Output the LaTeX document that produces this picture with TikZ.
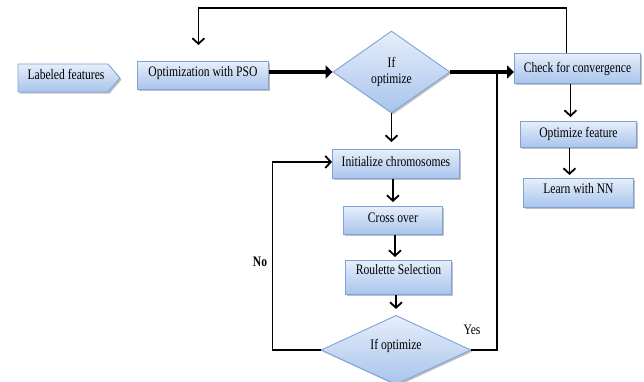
\documentclass[tikz,border=0pt]{standalone}
\usepackage{fontspec}
\setmainfont{Liberation Serif}[FakeStretch=0.8]
\usetikzlibrary{shapes.geometric,arrows.meta,shadows,calc}

\definecolor{boxtop}{HTML}{E6EEFA}
\definecolor{boxbot}{HTML}{A8C4EC}
\definecolor{boxline}{HTML}{7FA3D6}

\tikzset{
  txt/.style={font=\fontsize{14.5}{16}\selectfont},
  boxfill/.style={draw=boxline, line width=0.9pt, top color=boxtop, bottom color=boxbot,
    drop shadow={shadow xshift=1.6pt, shadow yshift=-1.6pt, opacity=0.35, fill=black!70}},
  stepbox/.style={boxfill, txt, shape=rectangle, inner sep=0pt, anchor=north west},
  decision/.style={boxfill, txt, shape=diamond, inner sep=0pt, align=center},
  conn/.style={draw=black, line width=1.8pt, -{Straight Barb[length=5.5pt,width=12pt]}},
  plainline/.style={draw=black, line width=1.8pt},
  bigarrow/.style={draw=black, line width=4.5pt, -{Triangle[length=7pt,width=13pt]}}
}

\begin{document}
\begin{tikzpicture}[x=1pt, y=-1pt]
\useasboundingbox (0,0) rectangle (644,382);

% input tag
\path[boxfill] (18,64) -- (108,64) -- (120,78) -- (108,92) -- (18,92) -- cycle;
\node[txt, inner sep=0pt, anchor=base] (feat) at (66,80) {Labeled features};

% main chain
\node[stepbox, minimum width=131pt, text height=15pt, text depth=13pt] (pso) at (137,61) {Optimization with PSO};
\node[decision, minimum width=117pt, minimum height=82pt] (d1) at (391.5,72) {If\\optimize};
\node[stepbox, minimum width=126pt, text height=19pt, text depth=11pt] (chk) at (514,53) {Check for convergence};
\node[stepbox, minimum width=116pt, text height=16pt, text depth=10pt] (optf) at (520,121) {Optimize feature};
\node[stepbox, minimum width=110pt, text height=15pt, text depth=14pt] (nn) at (523,178) {Learn with NN};

% genetic loop
\node[stepbox, minimum width=127pt, text height=17pt, text depth=12pt] (init) at (332,149) {Initialize chromosomes};
\node[stepbox, minimum width=99pt, text height=16pt, text depth=12pt] (cross) at (343,206) {Cross over};
\node[stepbox, minimum width=106pt, text height=14pt, text depth=20pt] (roul) at (345,260) {Roulette Selection};
\node[decision, minimum width=150pt, minimum height=62pt, text height=8pt, text depth=10pt] (d2) at (396,350) {If optimize};

\coordinate (yj) at (497,72);

% thick flow arrows
\draw[bigarrow] (pso.east |- d1.west) -- (d1.west);
\draw[bigarrow] (d1.east) -- (d1.east -| chk.west);

% feedback from convergence check
\draw[conn, shorten >=16pt] ([xshift=-11pt]chk.north) -- ++(0,-45) -| ([xshift=-4.5pt]pso.north);

% vertical steps
\draw[conn, shorten >=7pt] (d1.south) -- (d1.south |- init.north);
\draw[conn, shorten >=4pt] (cross.north |- init.south) -- (cross.north);
\draw[conn, shorten >=3pt] ([xshift=2pt]cross.south) -- ([xshift=2pt]cross.south |- roul.north);
\draw[conn, shorten >=6pt] (d2.north |- roul.south) -- (d2.north);
\draw[conn, shorten >=4pt] ([xshift=-8pt]optf.north |- chk.south) -- ([xshift=-8pt]optf.north);
\draw[conn, shorten >=3pt] ([xshift=-9pt]nn.north |- optf.south) -- ([xshift=-9pt]nn.north);

% loop back and exit
\draw[conn] (d2.west) -- ++(-48,0) |- ([yshift=2pt]init.west);
\draw[plainline] (d2.east) -| (yj);

\node[txt, font=\fontsize{14.5}{16}\selectfont\bfseries, inner sep=0pt] (no) at (260,262) {No};
\node[txt, inner sep=0pt] (yes) at (472,330) {Yes};
\end{tikzpicture}
\end{document}
